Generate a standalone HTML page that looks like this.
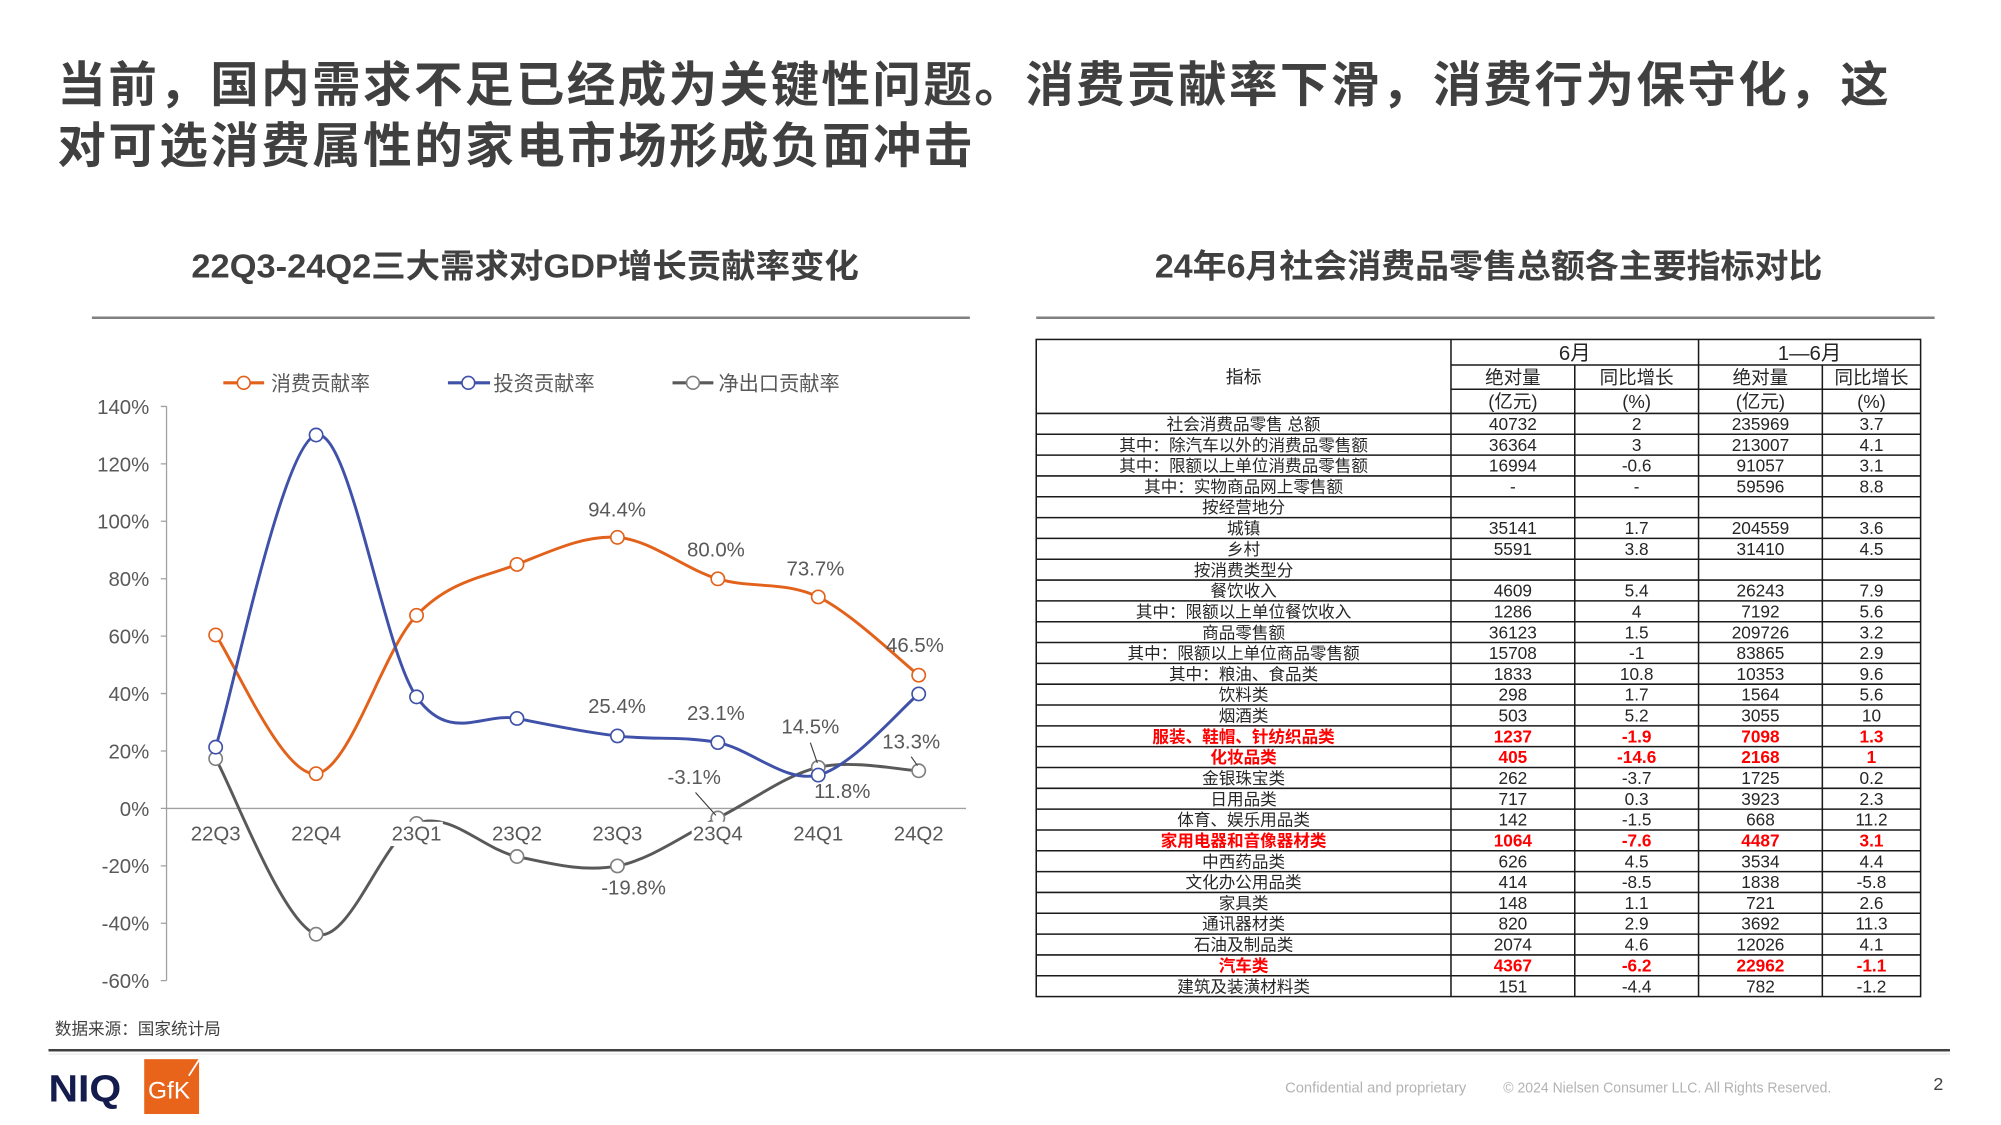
<!DOCTYPE html>
<html>
<head>
<meta charset="utf-8">
<style>
html,body{margin:0;padding:0;background:#fff;}
svg{display:block;}
text{font-family:"Liberation Sans","Noto Sans CJK SC",sans-serif;}
</style>
</head>
<body>
<svg width="2001" height="1125" viewBox="0 0 1568 881.6" preserveAspectRatio="none" xmlns="http://www.w3.org/2000/svg">
<rect x="0" y="0" width="1568" height="882" fill="#fff"/>

<!-- Title -->
<g fill="#404040" font-weight="bold" font-size="38">
<text x="45" y="79.4" textLength="1435" lengthAdjust="spacing">当前，国内需求不足已经成为关键性问题。消费贡献率下滑，消费行为保守化，这</text>
<text x="45" y="127.4" textLength="717" lengthAdjust="spacing">对可选消费属性的家电市场形成负面冲击</text>
</g>

<!-- Subtitles -->
<g fill="#404040" font-weight="bold" font-size="26">
<text x="150" y="217.5" textLength="523" lengthAdjust="spacingAndGlyphs">22Q3-24Q2三大需求对GDP增长贡献率变化</text>
<text x="905" y="217.5" textLength="523" lengthAdjust="spacingAndGlyphs">24年6月社会消费品零售总额各主要指标对比</text>
</g>
<line x1="72" y1="249" x2="760" y2="249" stroke="#808080" stroke-width="2"/>
<line x1="812" y1="249" x2="1516" y2="249" stroke="#808080" stroke-width="2"/>

<!-- Legend -->
<g stroke-width="2.4">
<line x1="175" y1="300" x2="207" y2="300" stroke="#E2621B"/>
<circle cx="191" cy="300" r="5" fill="#fff" stroke="#E2621B" stroke-width="1.3"/>
<line x1="351" y1="300" x2="384" y2="300" stroke="#3F51A8"/>
<circle cx="367" cy="300" r="5" fill="#fff" stroke="#3F51A8" stroke-width="1.3"/>
<line x1="527" y1="300" x2="559" y2="300" stroke="#595959"/>
<circle cx="543" cy="300" r="5" fill="#fff" stroke="#7f7f7f" stroke-width="1.3"/>
</g>
<g fill="#595959" font-size="16">
<text x="212.5" y="306" textLength="77.5" lengthAdjust="spacingAndGlyphs">消费贡献率</text>
<text x="386.6" y="306" textLength="79.4" lengthAdjust="spacingAndGlyphs">投资贡献率</text>
<text x="563" y="306" textLength="95" lengthAdjust="spacingAndGlyphs">净出口贡献率</text>
</g>

<!-- Axes -->
<line x1="130.5" y1="318.5" x2="130.5" y2="768.5" stroke="#a0a0a0" stroke-width="1"/>
<path d="M126,318.5H130.5M126,363.5H130.5M126,408.5H130.5M126,453.5H130.5M126,498.5H130.5M126,543.5H130.5M126,588.5H130.5M126,633.5H130.5M126,678.5H130.5M126,723.5H130.5M126,768.5H130.5" stroke="#a0a0a0" stroke-width="1"/>
<line x1="130.5" y1="633.5" x2="757" y2="633.5" stroke="#a0a0a0" stroke-width="1.1"/>
<g fill="#595959" font-size="16" text-anchor="end">
<text x="117" y="324.3">140%</text>
<text x="117" y="369.3">120%</text>
<text x="117" y="414.3">100%</text>
<text x="117" y="459.3">80%</text>
<text x="117" y="504.3">60%</text>
<text x="117" y="549.3">40%</text>
<text x="117" y="594.3">20%</text>
<text x="117" y="639.3">0%</text>
<text x="117" y="684.3">-20%</text>
<text x="117" y="729.3">-40%</text>
<text x="117" y="774.3">-60%</text>
</g>

<!-- Series lines -->
<g fill="none" stroke-width="2.3" stroke-linecap="round" stroke-linejoin="round">
<path stroke="#595959" d="M169,594.5 C182.1,617.4 221.5,723.6 247.7,732.1 C273.9,740.6 300.2,655.5 326.4,645.3 C352.6,635.2 378.9,665.7 405.1,671.2 C431.3,676.8 457.6,683.6 483.8,678.6 C510.0,673.6 536.3,653.9 562.5,641.0 C588.7,628.1 615.0,607.5 641.2,601.3 C667.4,595.1 706.8,603.6 719.9,604.0"/>
<path stroke="#E2621B" d="M169,497.6 C182.1,515.7 221.5,608.9 247.7,606.3 C273.9,603.7 300.2,509.5 326.4,482.2 C352.6,454.9 378.9,452.5 405.1,442.3 C431.3,432.1 457.6,419.2 483.8,421.1 C510.0,423.0 536.3,445.8 562.5,453.6 C588.7,461.4 615.0,455.2 641.2,467.8 C667.4,480.4 706.8,518.9 719.9,529.1"/>
<path stroke="#3F51A8" d="M169,585.5 C182.1,544.7 221.5,347.5 247.7,340.9 C273.9,334.3 300.2,509.1 326.4,546.1 C352.6,583.1 378.9,557.9 405.1,563.0 C431.3,568.1 457.6,573.6 483.8,576.7 C510.0,579.9 536.3,576.8 562.5,581.9 C588.7,587.0 615.0,613.8 641.2,607.4 C667.4,601.1 706.8,554.4 719.9,543.8"/>
</g>

<!-- Markers -->
<g fill="#fff" stroke-width="1.3">
<g stroke="#7f7f7f">
<circle cx="169" cy="594.5" r="5.2"/><circle cx="247.7" cy="732.1" r="5.2"/><circle cx="326.4" cy="645.3" r="5.2"/><circle cx="405.1" cy="671.2" r="5.2"/><circle cx="483.8" cy="678.6" r="5.2"/><circle cx="562.5" cy="641.0" r="5.2"/><circle cx="641.2" cy="601.3" r="5.2"/><circle cx="719.9" cy="604.0" r="5.2"/>
</g>
<g stroke="#E2621B">
<circle cx="169" cy="497.6" r="5.2"/><circle cx="247.7" cy="606.3" r="5.2"/><circle cx="326.4" cy="482.2" r="5.2"/><circle cx="405.1" cy="442.3" r="5.2"/><circle cx="483.8" cy="421.1" r="5.2"/><circle cx="562.5" cy="453.6" r="5.2"/><circle cx="641.2" cy="467.8" r="5.2"/><circle cx="719.9" cy="529.1" r="5.2"/>
</g>
<g stroke="#3F51A8">
<circle cx="169" cy="585.5" r="5.2"/><circle cx="247.7" cy="340.9" r="5.2"/><circle cx="326.4" cy="546.1" r="5.2"/><circle cx="405.1" cy="563.0" r="5.2"/><circle cx="483.8" cy="576.7" r="5.2"/><circle cx="562.5" cy="581.9" r="5.2"/><circle cx="641.2" cy="607.4" r="5.2"/><circle cx="719.9" cy="543.8" r="5.2"/>
</g>
</g>

<!-- Category labels with white background -->
<g fill="#fff">
<rect x="306" y="644" width="41" height="19"/>
<rect x="542" y="644" width="41" height="19"/>
</g>
<g fill="#595959" font-size="16" text-anchor="middle">
<text x="169" y="658.8">22Q3</text>
<text x="247.7" y="658.8">22Q4</text>
<text x="326.4" y="658.8">23Q1</text>
<text x="405.1" y="658.8">23Q2</text>
<text x="483.8" y="658.8">23Q3</text>
<text x="562.5" y="658.8">23Q4</text>
<text x="641.2" y="658.8">24Q1</text>
<text x="719.9" y="658.8">24Q2</text>
</g>

<!-- Data labels -->
<g fill="#595959" font-size="16" text-anchor="middle">
<text x="483.5" y="404.8">94.4%</text>
<text x="561" y="436">80.0%</text>
<text x="639" y="450.8">73.7%</text>
<text x="717" y="510.8">46.5%</text>
<text x="483.5" y="558.8">25.4%</text>
<text x="561" y="564.4">23.1%</text>
<text x="635" y="574.8">14.5%</text>
<text x="660" y="625.4">11.8%</text>
<text x="714" y="586.4">13.3%</text>
<text x="544" y="614.5">-3.1%</text>
<text x="496.5" y="700.8">-19.8%</text>
</g>
<g stroke="#404040" stroke-width="0.9">
<line x1="635" y1="582" x2="640.5" y2="598"/>
<line x1="714" y1="593" x2="719" y2="600"/>
<line x1="545" y1="621" x2="561" y2="639"/>
</g>

<!-- Source -->
<text x="43" y="810.8" fill="#404040" font-size="13" textLength="130" lengthAdjust="spacingAndGlyphs">数据来源：国家统计局</text>

<!-- Table -->
<g stroke="#1a1a1a" stroke-width="1.2" fill="none">
<rect x="812" y="266" width="693" height="514.96"/>
<path d="M1137,266V780.96 M1331,266V780.96 M1234,286V780.96 M1428,286V780.96 M1137,286H1505 M1137,305H1505"/>
<path d="M812,324H1505 M812,340.32H1505 M812,356.64H1505 M812,372.96H1505 M812,389.28H1505 M812,405.6H1505 M812,421.92H1505 M812,438.24H1505 M812,454.56H1505 M812,470.88H1505 M812,487.2H1505 M812,503.52H1505 M812,519.84H1505 M812,536.16H1505 M812,552.48H1505 M812,568.8H1505 M812,585.12H1505 M812,601.44H1505 M812,617.76H1505 M812,634.08H1505 M812,650.4H1505 M812,666.72H1505 M812,683.04H1505 M812,699.36H1505 M812,715.68H1505 M812,732H1505 M812,748.32H1505 M812,764.64H1505"/>
</g>
<g fill="#262626" text-anchor="middle">
<text x="974.5" y="300" font-size="14">指标</text>
<text x="1234" y="282" font-size="16">6月</text>
<text x="1418" y="282" font-size="16">1—6月</text>
<g font-size="14.5">
<text x="1185.5" y="300.8">绝对量</text>
<text x="1282.5" y="300.8">同比增长</text>
<text x="1379.5" y="300.8">绝对量</text>
<text x="1466.5" y="300.8">同比增长</text>
<text x="1185.5" y="319.8">(亿元)</text>
<text x="1282.5" y="319.8">(%)</text>
<text x="1379.5" y="319.8">(亿元)</text>
<text x="1466.5" y="319.8">(%)</text>
</g>
</g>

<g fill="#262626" text-anchor="middle" font-size="13">
<text x="974.5" y="337.0">社会消费品零售 总额</text>
<text x="974.5" y="353.3">其中：除汽车以外的消费品零售额</text>
<text x="974.5" y="369.6">其中：限额以上单位消费品零售额</text>
<text x="974.5" y="385.9">其中：实物商品网上零售额</text>
<text x="974.5" y="402.2">按经营地分</text>
<text x="974.5" y="418.6">城镇</text>
<text x="974.5" y="434.9">乡村</text>
<text x="974.5" y="451.2">按消费类型分</text>
<text x="974.5" y="467.5">餐饮收入</text>
<text x="974.5" y="483.8">其中：限额以上单位餐饮收入</text>
<text x="974.5" y="500.2">商品零售额</text>
<text x="974.5" y="516.5">其中：限额以上单位商品零售额</text>
<text x="974.5" y="532.8">其中：粮油、食品类</text>
<text x="974.5" y="549.1">饮料类</text>
<text x="974.5" y="565.4">烟酒类</text>
<text x="974.5" y="614.4">金银珠宝类</text>
<text x="974.5" y="630.7">日用品类</text>
<text x="974.5" y="647.0">体育、娱乐用品类</text>
<text x="974.5" y="679.7">中西药品类</text>
<text x="974.5" y="696.0">文化办公用品类</text>
<text x="974.5" y="712.3">家具类</text>
<text x="974.5" y="728.6">通讯器材类</text>
<text x="974.5" y="745.0">石油及制品类</text>
<text x="974.5" y="777.6">建筑及装潢材料类</text>
</g>
<g fill="#262626" text-anchor="middle" font-size="13.5">
<text x="1185.5" y="337.0">40732</text><text x="1282.5" y="337.0">2</text><text x="1379.5" y="337.0">235969</text><text x="1466.5" y="337.0">3.7</text>
<text x="1185.5" y="353.3">36364</text><text x="1282.5" y="353.3">3</text><text x="1379.5" y="353.3">213007</text><text x="1466.5" y="353.3">4.1</text>
<text x="1185.5" y="369.6">16994</text><text x="1282.5" y="369.6">-0.6</text><text x="1379.5" y="369.6">91057</text><text x="1466.5" y="369.6">3.1</text>
<text x="1185.5" y="385.9">-</text><text x="1282.5" y="385.9">-</text><text x="1379.5" y="385.9">59596</text><text x="1466.5" y="385.9">8.8</text>
<text x="1185.5" y="418.6">35141</text><text x="1282.5" y="418.6">1.7</text><text x="1379.5" y="418.6">204559</text><text x="1466.5" y="418.6">3.6</text>
<text x="1185.5" y="434.9">5591</text><text x="1282.5" y="434.9">3.8</text><text x="1379.5" y="434.9">31410</text><text x="1466.5" y="434.9">4.5</text>
<text x="1185.5" y="467.5">4609</text><text x="1282.5" y="467.5">5.4</text><text x="1379.5" y="467.5">26243</text><text x="1466.5" y="467.5">7.9</text>
<text x="1185.5" y="483.8">1286</text><text x="1282.5" y="483.8">4</text><text x="1379.5" y="483.8">7192</text><text x="1466.5" y="483.8">5.6</text>
<text x="1185.5" y="500.2">36123</text><text x="1282.5" y="500.2">1.5</text><text x="1379.5" y="500.2">209726</text><text x="1466.5" y="500.2">3.2</text>
<text x="1185.5" y="516.5">15708</text><text x="1282.5" y="516.5">-1</text><text x="1379.5" y="516.5">83865</text><text x="1466.5" y="516.5">2.9</text>
<text x="1185.5" y="532.8">1833</text><text x="1282.5" y="532.8">10.8</text><text x="1379.5" y="532.8">10353</text><text x="1466.5" y="532.8">9.6</text>
<text x="1185.5" y="549.1">298</text><text x="1282.5" y="549.1">1.7</text><text x="1379.5" y="549.1">1564</text><text x="1466.5" y="549.1">5.6</text>
<text x="1185.5" y="565.4">503</text><text x="1282.5" y="565.4">5.2</text><text x="1379.5" y="565.4">3055</text><text x="1466.5" y="565.4">10</text>
<text x="1185.5" y="614.4">262</text><text x="1282.5" y="614.4">-3.7</text><text x="1379.5" y="614.4">1725</text><text x="1466.5" y="614.4">0.2</text>
<text x="1185.5" y="630.7">717</text><text x="1282.5" y="630.7">0.3</text><text x="1379.5" y="630.7">3923</text><text x="1466.5" y="630.7">2.3</text>
<text x="1185.5" y="647.0">142</text><text x="1282.5" y="647.0">-1.5</text><text x="1379.5" y="647.0">668</text><text x="1466.5" y="647.0">11.2</text>
<text x="1185.5" y="679.7">626</text><text x="1282.5" y="679.7">4.5</text><text x="1379.5" y="679.7">3534</text><text x="1466.5" y="679.7">4.4</text>
<text x="1185.5" y="696.0">414</text><text x="1282.5" y="696.0">-8.5</text><text x="1379.5" y="696.0">1838</text><text x="1466.5" y="696.0">-5.8</text>
<text x="1185.5" y="712.3">148</text><text x="1282.5" y="712.3">1.1</text><text x="1379.5" y="712.3">721</text><text x="1466.5" y="712.3">2.6</text>
<text x="1185.5" y="728.6">820</text><text x="1282.5" y="728.6">2.9</text><text x="1379.5" y="728.6">3692</text><text x="1466.5" y="728.6">11.3</text>
<text x="1185.5" y="745.0">2074</text><text x="1282.5" y="745.0">4.6</text><text x="1379.5" y="745.0">12026</text><text x="1466.5" y="745.0">4.1</text>
<text x="1185.5" y="777.6">151</text><text x="1282.5" y="777.6">-4.4</text><text x="1379.5" y="777.6">782</text><text x="1466.5" y="777.6">-1.2</text>
</g>
<!-- Red rows -->
<g fill="#FF0000" font-weight="bold" text-anchor="middle">
<g font-size="13">
<text x="974.5" y="581.8">服装、鞋帽、针纺织品类</text>
<text x="974.5" y="598.1">化妆品类</text>
<text x="974.5" y="663.4">家用电器和音像器材类</text>
<text x="974.5" y="761.3">汽车类</text>
</g>
<g font-size="13.5">
<text x="1185.5" y="581.8">1237</text><text x="1282.5" y="581.8">-1.9</text><text x="1379.5" y="581.8">7098</text><text x="1466.5" y="581.8">1.3</text>
<text x="1185.5" y="598.1">405</text><text x="1282.5" y="598.1">-14.6</text><text x="1379.5" y="598.1">2168</text><text x="1466.5" y="598.1">1</text>
<text x="1185.5" y="663.4">1064</text><text x="1282.5" y="663.4">-7.6</text><text x="1379.5" y="663.4">4487</text><text x="1466.5" y="663.4">3.1</text>
<text x="1185.5" y="761.3">4367</text><text x="1282.5" y="761.3">-6.2</text><text x="1379.5" y="761.3">22962</text><text x="1466.5" y="761.3">-1.1</text>
</g>
</g>

<!-- Footer -->
<line x1="38" y1="823" x2="1528" y2="823" stroke="#404040" stroke-width="2"/>
<line x1="38" y1="826" x2="1528" y2="826" stroke="#ececec" stroke-width="1"/>
<text x="38" y="863" fill="#141b4d" font-size="30" font-weight="bold" textLength="57" lengthAdjust="spacingAndGlyphs">NIQ</text>
<rect x="113" y="830" width="43" height="43" fill="#E8641B"/>
<text x="116" y="861" fill="#fff" font-size="19" textLength="33" lengthAdjust="spacingAndGlyphs">GfK</text>
<line x1="148" y1="843" x2="157" y2="829" stroke="#fff" stroke-width="1.4"/>
<text x="1007" y="856" fill="#b3b3b3" font-size="11.5" textLength="142" lengthAdjust="spacingAndGlyphs">Confidential and proprietary</text>
<text x="1178" y="856" fill="#b3b3b3" font-size="11.5" textLength="257" lengthAdjust="spacingAndGlyphs">© 2024 Nielsen Consumer LLC. All Rights Reserved.</text>
<text x="1515" y="854" fill="#404040" font-size="14">2</text>
</svg>
</body>
</html>
